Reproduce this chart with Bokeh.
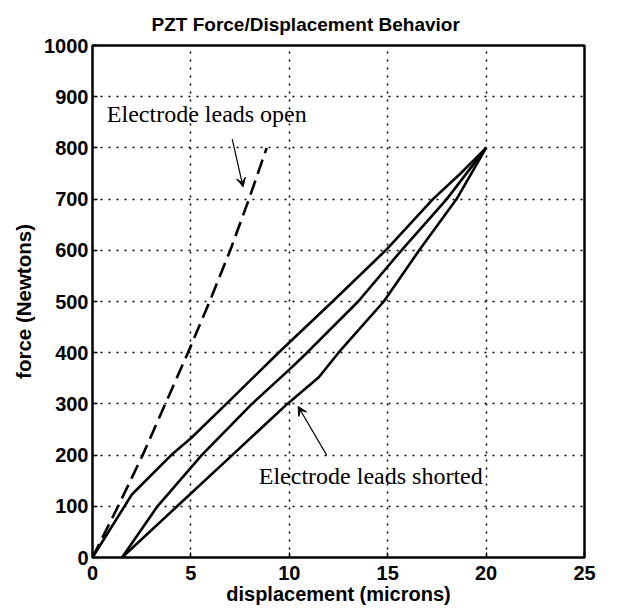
from bokeh.plotting import figure
from bokeh.models import Range1d, Label, Arrow, VeeHead, FixedTicker, Title
from bokeh.embed import file_html
from bokeh.resources import INLINE

# Data
open_x = [0, 1.3, 2.55, 3.7, 4.85, 5.95, 7.0, 7.95, 8.85]
open_y = [0, 100, 200, 300, 400, 500, 600, 700, 800]

upper_x = [0, 2.0, 4.0, 5.0, 6.8, 9.45, 12.2, 14.9, 17.3, 18.7, 20]
upper_y = [0, 123, 200, 233, 300, 400, 500, 600, 700, 750, 800]

middle_x = [1.5, 3.3, 5.55, 8.1, 10.0, 10.9, 13.5, 15.7, 18.0, 20]
middle_y = [0, 100, 200, 300, 367, 400, 500, 600, 700, 800]

lower_x = [1.5, 4.3, 7.1, 9.9, 11.5, 12.5, 14.8, 16.6, 18.5, 20]
lower_y = [0, 100, 200, 300, 352, 400, 500, 600, 700, 800]

x_ticks = [0, 5, 10, 15, 20, 25]
y_ticks = [0, 100, 200, 300, 400, 500, 600, 700, 800, 900, 1000]

title_text = "PZT Force/Displacement Behavior"

p = figure(width=608, height=608, output_backend="svg", toolbar_location=None,
           x_range=Range1d(0, 25), y_range=Range1d(0, 1000),
           min_border_left=92, min_border_right=24, min_border_top=45, min_border_bottom=51,
           title=Title(text=title_text, align="left", offset=59, standoff=22,
                       text_font="Liberation Sans", text_font_size="19px",
                       text_font_style="bold", text_color="black"))

p.background_fill_color = "white"
p.border_fill_color = "white"
p.outline_line_color = "black"
p.outline_line_width = 2.5

for ax in (p.xaxis[0], p.yaxis[0]):
    ax.axis_line_color = None
    ax.major_tick_in = 5
    ax.major_tick_out = 0
    ax.major_tick_line_color = "black"
    ax.major_tick_line_width = 1.5
    ax.minor_tick_line_color = None
    ax.major_label_text_font = "Liberation Sans"
    ax.major_label_text_font_size = "20px"
    ax.major_label_text_font_style = "bold"
    ax.major_label_text_color = "black"
    ax.axis_label_text_font = "Liberation Sans"
    ax.axis_label_text_font_style = "bold"
    ax.axis_label_text_color = "black"

p.xaxis.axis_label_text_font_size = "20px"
p.yaxis.axis_label_text_font_size = "20.5px"
p.xaxis.ticker = FixedTicker(ticks=x_ticks)
p.yaxis.ticker = FixedTicker(ticks=y_ticks)
p.xaxis.major_label_standoff = 8
p.yaxis.major_label_standoff = 4
p.xaxis.axis_label = "displacement (microns)"
p.yaxis.axis_label = "force (Newtons)"
p.xaxis.axis_label_standoff = 0
p.yaxis.axis_label_standoff = 6

p.grid.grid_line_color = "black"
p.grid.grid_line_dash = "2 6"
p.grid.grid_line_width = 1.5
p.grid.grid_line_alpha = 1.0

p.line(open_x, open_y, line_color="black", line_width=2.6, line_dash="15 7")
p.line(upper_x, upper_y, line_color="black", line_width=2.6)
p.line(middle_x, middle_y, line_color="black", line_width=2.6)
p.line(lower_x, lower_y, line_color="black", line_width=2.6)

p.add_layout(Label(x=0.73, y=866, text="Electrode leads open", text_font="Liberation Serif",
                   text_font_size="24px", text_color="black", text_baseline="middle"))
p.add_layout(Label(x=8.45, y=160, text="Electrode leads shorted", text_font="Liberation Serif",
                   text_font_size="24px", text_color="black", text_baseline="middle"))

p.add_layout(Arrow(x_start=7.1, y_start=817, x_end=7.65, y_end=724, line_width=1.2,
                   line_color="black",
                   end=VeeHead(size=9, line_color="black", fill_color="black", line_width=1)))
p.add_layout(Arrow(x_start=11.9, y_start=200, x_end=10.45, y_end=295, line_width=1.2,
                   line_color="black",
                   end=VeeHead(size=9, line_color="black", fill_color="black", line_width=1)))

open("out.html", "w").write(file_html(p, INLINE))
